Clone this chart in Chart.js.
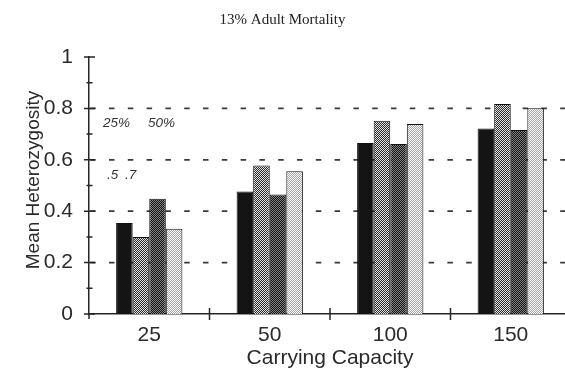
<!DOCTYPE html>
<html>
<head>
<meta charset="utf-8">
<script src="https://cdn.jsdelivr.net/npm/chart.js@4.4.0/dist/chart.umd.min.js"></script>
<style>
  html, body { margin: 0; padding: 0; background: #fff; overflow: hidden; width: 565px; height: 371px; }
  #wrap { position: relative; width: 582px; height: 371px; }
</style>
</head>
<body>
<div id="wrap"><canvas id="chart" width="582" height="371"></canvas></div>
<script>
// Mean heterozygosity by carrying capacity, four scenarios per group
const categories = ['25', '50', '100', '150'];
const seriesSolid  = [0.354, 0.477, 0.665, 0.722];
const seriesMedium = [0.300, 0.578, 0.752, 0.817];
const seriesDark   = [0.448, 0.465, 0.661, 0.716];
const seriesLight  = [0.332, 0.555, 0.739, 0.801];

const yTickValues  = [0, 0.2, 0.4, 0.6, 0.8, 1];
const yMinorValues = [0.1, 0.3, 0.5, 0.7, 0.9];
const gridValues   = [0.2, 0.4, 0.6, 0.8];
const keyTopRow    = ['25%', '50%'];
const keyBottomRow = ['.5', '.7'];

const INK = '#262626';

// Small halftone tiles used as bar fills
function halftone(size, shade) {
  const c = document.createElement('canvas');
  c.width = c.height = size;
  const g = c.getContext('2d');
  const img = g.createImageData(size, size);
  for (let j = 0; j < size; j++) {
    for (let i = 0; i < size; i++) {
      const v = shade(i, j);
      const k = (j * size + i) * 4;
      img.data[k] = img.data[k + 1] = img.data[k + 2] = v;
      img.data[k + 3] = 255;
    }
  }
  g.putImageData(img, 0, 0);
  return g.createPattern(c, 'repeat');
}
const ctx = document.getElementById('chart').getContext('2d');
const fillSolid  = '#141414';
const fillMedium = halftone(2, (i, j) => ((i + j) % 2 ? 45 : 225));
const fillDark   = halftone(2, (i, j) => ((i + j) % 2 ? 20 : 130));
const fillLight  = halftone(2, (i, j) => ((i + j) % 2 ? 165 : 250));

// Dashed reference lines, axis tick crosses, key text and headings
const decor = {
  id: 'decor',
  beforeDatasetsDraw(chart) {
    const { ctx, chartArea: a, scales: { y } } = chart;
    ctx.save();
    ctx.strokeStyle = '#3a3a3a';
    ctx.lineWidth = 1.7;
    ctx.setLineDash([5.5, 13.3]);
    gridValues.forEach(v => {
      const py = y.getPixelForValue(v);
      ctx.beginPath();
      ctx.moveTo(a.left + 1.2, py);
      ctx.lineTo(a.right, py);
      ctx.stroke();
    });
    ctx.restore();
  },
  afterDatasetsDraw(chart) {
    const { ctx, chartArea: a, scales: { x, y } } = chart;
    ctx.save();
    ctx.strokeStyle = INK;
    ctx.lineWidth = 1.5;
    ctx.setLineDash([]);
    ctx.beginPath();
    yTickValues.forEach(v => {
      const py = y.getPixelForValue(v);
      ctx.moveTo(a.left - 5, py);
      ctx.lineTo(a.left + 6, py);
    });
    yMinorValues.forEach(v => {
      const py = y.getPixelForValue(v);
      ctx.moveTo(a.left - 2.5, py);
      ctx.lineTo(a.left + 3.5, py);
    });
    for (let i = 0; i < categories.length; i++) {
      const px = (x.getPixelForValue(i) + (i + 1 < categories.length
        ? x.getPixelForValue(i + 1) : a.right + (a.right - x.getPixelForValue(i)))) / 2;
      ctx.moveTo(px, a.bottom - 6);
      ctx.lineTo(px, a.bottom + 6);
    }
    ctx.moveTo(a.left, a.bottom);
    ctx.lineTo(a.left, a.bottom + 5);
    ctx.stroke();

    // key text
    ctx.fillStyle = '#333';
    ctx.font = 'italic 13.5px "Liberation Sans"';
    ctx.textBaseline = 'middle';
    ctx.textAlign = 'left';
    const yTop = y.getPixelForValue(0.743);
    const yBot = y.getPixelForValue(0.541);
    ctx.fillText(keyTopRow[0], a.left + 14, yTop);
    ctx.fillText(keyTopRow[1], a.left + 59, yTop);
    ctx.fillText(keyBottomRow[0], a.left + 18, yBot);
    ctx.fillText(keyBottomRow[1], a.left + 36, yBot);

    // vertical axis title
    ctx.fillStyle = '#2a2a2a';
    ctx.font = '19px "Liberation Sans"';
    ctx.textAlign = 'center';
    ctx.translate(34, 180);
    ctx.rotate(-Math.PI / 2);
    ctx.fillText('Mean Heterozygosity', 0, 0);
    ctx.setTransform(1, 0, 0, 1, 0, 0);

    // heading
    ctx.fillStyle = '#222';
    ctx.font = '15px "Liberation Serif"';
    ctx.textAlign = 'center';
    ctx.fillText('13% Adult Mortality', 282.5, 20);
    ctx.restore();
  }
};

const bar = (data, fill) => ({
  data,
  backgroundColor: fill,
  borderColor: '#111',
  borderWidth: 1,
  borderSkipped: 'bottom'
});

new Chart(ctx, {
  type: 'bar',
  data: {
    labels: categories,
    datasets: [
      bar(seriesSolid, fillSolid),
      bar(seriesMedium, fillMedium),
      bar(seriesDark, fillDark),
      bar(seriesLight, fillLight)
    ]
  },
  options: {
    responsive: false,
    animation: false,
    devicePixelRatio: 1,
    layout: { padding: { left: 0, right: 11, top: 57, bottom: 0 } },
    datasets: { bar: { categoryPercentage: 0.55, barPercentage: 1 } },
    plugins: { legend: { display: false }, tooltip: { enabled: false }, title: { display: false } },
    scales: {
      x: {
        type: 'category',
        offset: true,
        grid: { display: false, drawTicks: false },
        border: { display: true, color: INK, width: 1.5 },
        ticks: { color: '#2a2a2a', font: { family: 'Liberation Sans', size: 21 }, padding: 9, maxRotation: 0 },
        title: {
          display: true, text: 'Carrying Capacity', color: '#2a2a2a',
          font: { family: 'Liberation Sans', size: 21 }, padding: { top: 0, bottom: 0 }
        },
        afterFit(s) { s.height = 57; }
      },
      y: {
        min: 0, max: 1,
        afterBuildTicks(s) { s.ticks = yTickValues.map(v => ({ value: v })); },
        grid: { display: false, drawTicks: false },
        border: { display: true, color: INK, width: 1.5 },
        ticks: { color: '#2a2a2a', font: { family: 'Liberation Sans', size: 21 }, padding: 16, callback: v => String(v) },
        title: { display: false },
        afterFit(s) { s.width = 89; }
      }
    }
  },
  plugins: [decor]
});
</script>
</body>
</html>
